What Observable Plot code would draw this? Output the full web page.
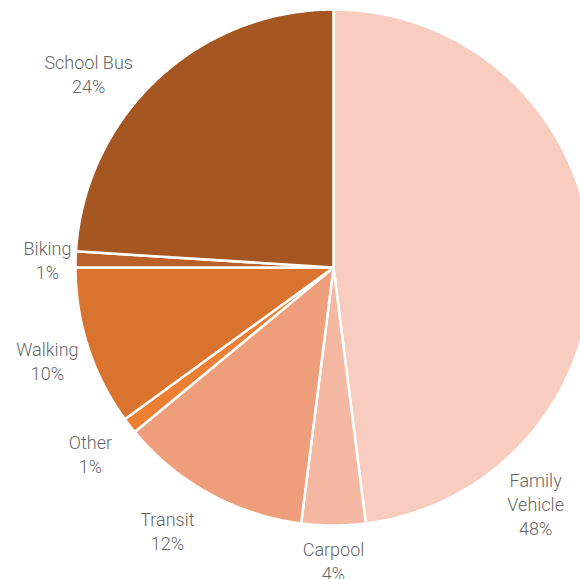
<!DOCTYPE html>
<html>
<head>
<meta charset="utf-8">
<script src="https://cdn.jsdelivr.net/npm/d3@7"></script>
<script src="https://cdn.jsdelivr.net/npm/@observablehq/plot@0.6"></script>
<style>
  html, body { margin: 0; padding: 0; background: #fff; }
  #chart { width: 580px; height: 579px; overflow: hidden; }
</style>
</head>
<body>
<div id="chart"></div>
<script>
const categories = ["Family Vehicle", "Carpool", "Transit", "Other", "Walking", "Biking", "School Bus"];
const shares = [48, 4, 12, 1, 10, 1, 24];
const colors = ["#f8ccbe", "#f4b8a2", "#ef9e7b", "#ec7f33", "#d9732e", "#bb6026", "#a65621"];
const labelNames = ["Family\nVehicle", "Carpool", "Transit", "Other", "Walking", "Biking", "School Bus"];

// Layout: label placement (angle in degrees clockwise from top, radius relative to pie radius)
const labelLayout = {
  "Family Vehicle": [139.4, 1.204],
  "Carpool": [180, 1.136],
  "Transit": [212.3, 1.205],
  "Other": [232.6, 1.186],
  "Walking": [252, 1.166],
  "Biking": [271.6, 1.109],
  "School Bus": [308.4, 1.211]
};

const total = d3.sum(shares);
const slices = [];
const labelRows = [];
let acc = 0;
categories.forEach((c, i) => {
  const a0 = acc / total * 2 * Math.PI;
  acc += shares[i];
  const a1 = acc / total * 2 * Math.PI;
  slices.push({cat: c, x: 0, y: 0});
  const n = Math.max(2, Math.ceil((a1 - a0) / (Math.PI / 360)));
  for (let k = 0; k <= n; k++) {
    const a = a0 + (a1 - a0) * k / n;
    slices.push({cat: c, x: Math.sin(a), y: Math.cos(a)});
  }
  const [deg, r] = labelLayout[c];
  const mid = deg / 180 * Math.PI;
  labelRows.push({cat: c, text: labelNames[i] + "\n" + shares[i] + "%", x: r * Math.sin(mid), y: r * Math.cos(mid)});
});

const chart = Plot.plot({
  width: 580,
  height: 579,
  margin: 0,
  style: {background: "#fff", fontFamily: "Roboto, sans-serif"},
  x: {domain: [-1, 1], range: [75, 591], axis: null},
  y: {domain: [-1, 1], range: [525, 9], axis: null},
  color: {domain: categories, range: colors},
  marks: [
    Plot.line(slices, {x: "x", y: "y", z: "cat", fill: "cat", stroke: "#fff", strokeWidth: 2.5, curve: "linear-closed", strokeLinejoin: "round"}),
    Plot.text(labelRows, {x: "x", y: "y", text: "text", fontSize: 18, fontWeight: 300, fill: "#666", lineHeight: 1.33, lineAnchor: "middle", textAnchor: "middle"})
  ]
});
document.getElementById("chart").appendChild(chart);
</script>
</body>
</html>
